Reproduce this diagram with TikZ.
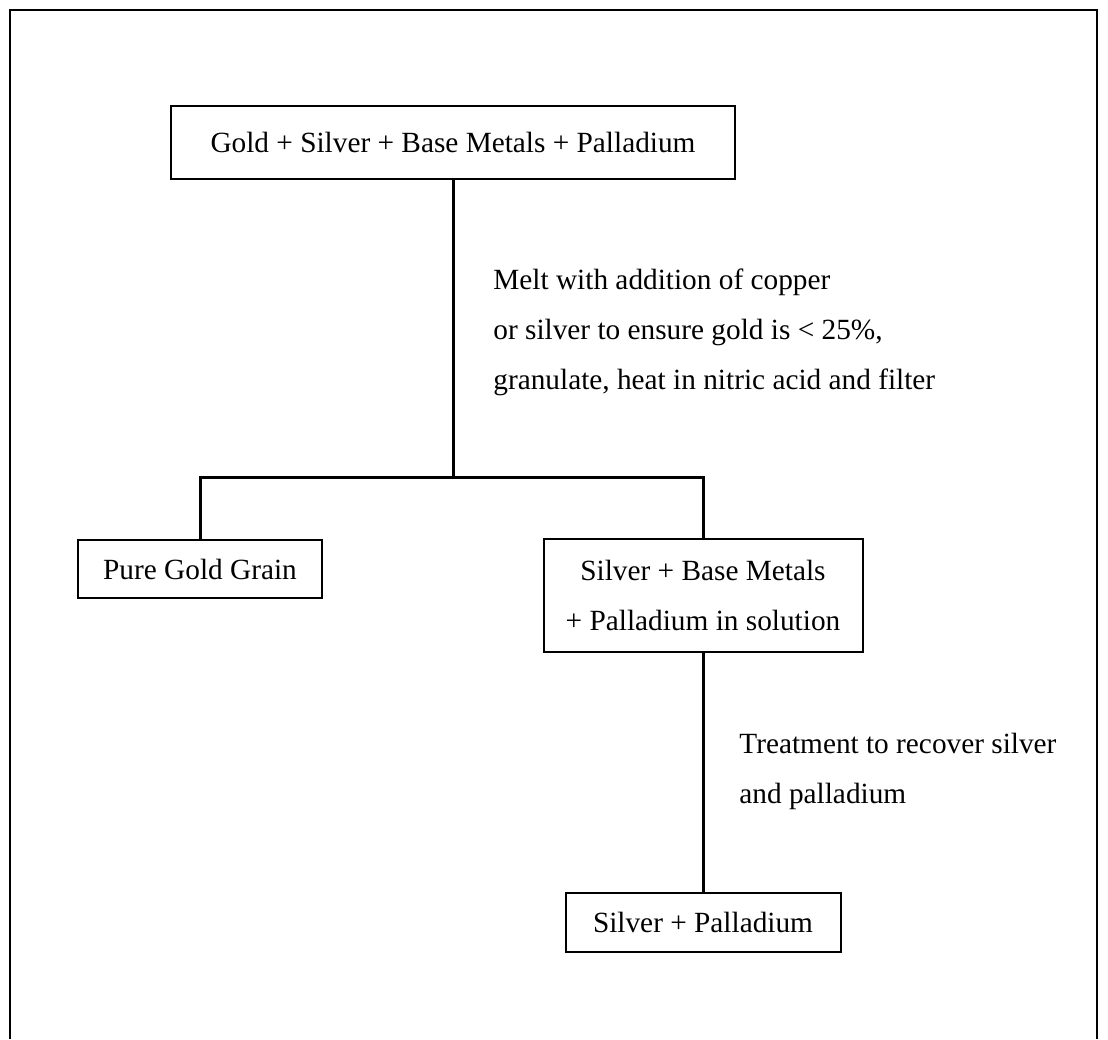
\documentclass[tikz,border=0pt]{standalone}
\usepackage{fontspec}
\setmainfont{Liberation Serif}
\begin{document}
\begin{tikzpicture}[x=0.5pt,y=-0.5pt,
    font=\fontsize{14.65pt}{25pt}\selectfont,
    stage/.style={draw,line width=1pt,align=center,inner sep=0pt},
    note/.style={align=left,inner sep=0pt,anchor=north west},
    link/.style={line width=1.5pt}]
  \useasboundingbox (0,0) rectangle (1108,1039);
  % outer frame, open at the bottom
  \draw[line width=1pt] (10,1039) -- (10,10) -- (1097,10) -- (1097,1039);
  \draw
    (453,142.5) node[stage,minimum width=282pt,minimum height=36.5pt] (mix){Gold + Silver + Base Metals + Palladium}
    (200,569) node[stage,minimum width=122pt,minimum height=29pt] (gold){Pure Gold Grain}
    (703,595.5) node[stage,minimum width=159.5pt,minimum height=56.5pt] (sol){Silver + Base Metals\\+ Palladium in solution}
    (703,922.5) node[stage,minimum width=137.5pt,minimum height=29.5pt] (agpd){Silver + Palladium};
  \coordinate (split) at (453,477);
  \node[note] (melt) at (493,268) {Melt with addition of copper\\or silver to ensure gold is < 25\%,\\granulate, heat in nitric acid and filter};
  \node[note] (treat) at (739,733) {Treatment to recover silver\\and palladium};
  \begin{scope}[link]
    \draw (mix) -- (split);
    \draw (gold) |- (split) -| (sol);
    \draw (sol) -- (agpd);
  \end{scope}
\end{tikzpicture}
\end{document}
